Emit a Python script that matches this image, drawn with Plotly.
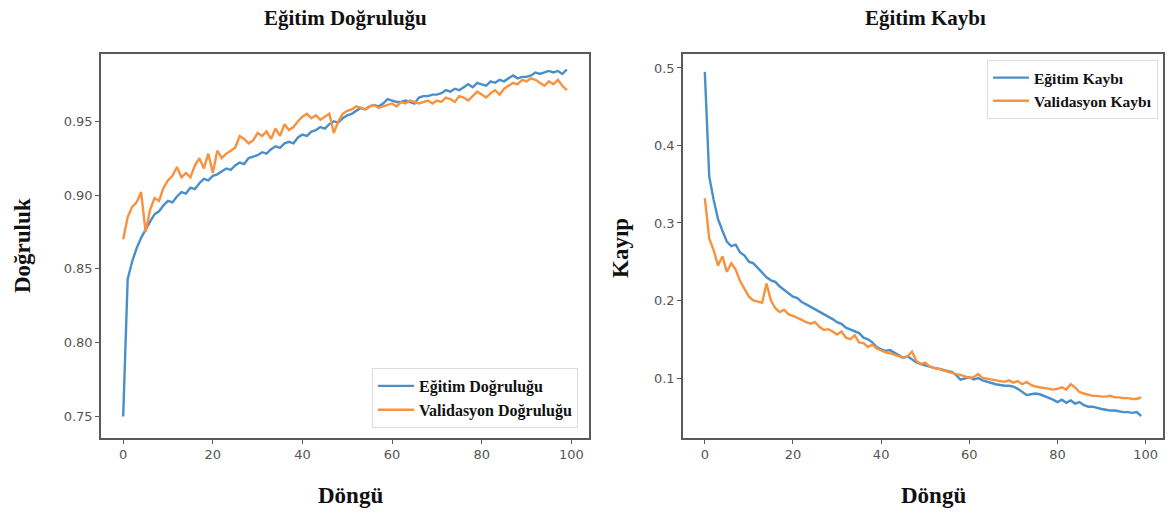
import plotly.graph_objects as go

epochs = list(range(100))

train_acc = [0.750, 0.843, 0.855, 0.864, 0.871, 0.877, 0.882, 0.887, 0.889, 0.893,
             0.896, 0.895, 0.899, 0.902, 0.901, 0.905, 0.904, 0.908, 0.911, 0.910,
             0.913, 0.914, 0.916, 0.918, 0.917, 0.920, 0.922, 0.921, 0.925, 0.926,
             0.927, 0.929, 0.928, 0.931, 0.933, 0.932, 0.935, 0.936, 0.935, 0.939,
             0.941, 0.940, 0.943, 0.944, 0.946, 0.945, 0.948, 0.950, 0.949, 0.952,
             0.954, 0.955, 0.957, 0.959, 0.958, 0.960, 0.961, 0.960, 0.962, 0.965,
             0.964, 0.963, 0.963, 0.964, 0.963, 0.962, 0.966, 0.967, 0.967, 0.968,
             0.968, 0.969, 0.971, 0.970, 0.972, 0.971, 0.973, 0.975, 0.973, 0.976,
             0.975, 0.974, 0.977, 0.976, 0.978, 0.977, 0.979, 0.981, 0.979, 0.980,
             0.980, 0.981, 0.983, 0.982, 0.983, 0.984, 0.983, 0.984, 0.982, 0.985]

val_acc = [0.870, 0.885, 0.892, 0.895, 0.902, 0.875, 0.890, 0.898, 0.896, 0.905,
           0.910, 0.913, 0.919, 0.912, 0.915, 0.912, 0.920, 0.925, 0.918, 0.928,
           0.915, 0.930, 0.925, 0.928, 0.930, 0.932, 0.940, 0.938, 0.935, 0.937,
           0.942, 0.940, 0.943, 0.938, 0.945, 0.940, 0.948, 0.944, 0.946, 0.950,
           0.953, 0.955, 0.952, 0.954, 0.951, 0.953, 0.955, 0.942, 0.950, 0.955,
           0.957, 0.958, 0.960, 0.959, 0.958, 0.960, 0.961, 0.959, 0.960, 0.961,
           0.962, 0.960, 0.963, 0.962, 0.964, 0.963, 0.962, 0.963, 0.964, 0.962,
           0.964, 0.963, 0.966, 0.965, 0.963, 0.967, 0.966, 0.964, 0.967, 0.970,
           0.968, 0.966, 0.969, 0.971, 0.968, 0.972, 0.974, 0.976, 0.975, 0.978,
           0.977, 0.979, 0.978, 0.976, 0.974, 0.977, 0.975, 0.978, 0.974, 0.971]

train_loss = [0.495, 0.360, 0.330, 0.305, 0.290, 0.276, 0.270, 0.272, 0.262, 0.258,
              0.250, 0.248, 0.242, 0.236, 0.230, 0.226, 0.224, 0.218, 0.214, 0.210,
              0.205, 0.203, 0.198, 0.195, 0.192, 0.188, 0.186, 0.182, 0.179, 0.176,
              0.172, 0.170, 0.165, 0.163, 0.160, 0.158, 0.152, 0.150, 0.146, 0.140,
              0.137, 0.135, 0.136, 0.133, 0.130, 0.126, 0.128, 0.124, 0.120, 0.118,
              0.116, 0.115, 0.113, 0.112, 0.110, 0.109, 0.108, 0.104, 0.098, 0.100,
              0.101, 0.098, 0.100, 0.097, 0.095, 0.094, 0.092, 0.091, 0.090, 0.090,
              0.089, 0.086, 0.082, 0.078, 0.079, 0.080, 0.079, 0.077, 0.075, 0.072,
              0.069, 0.072, 0.068, 0.071, 0.067, 0.069, 0.065, 0.063, 0.063, 0.061,
              0.060, 0.059, 0.058, 0.058, 0.057, 0.056, 0.056, 0.055, 0.056, 0.051]

val_loss = [0.332, 0.280, 0.265, 0.245, 0.257, 0.237, 0.248, 0.240, 0.225, 0.215,
            0.205, 0.200, 0.198, 0.197, 0.222, 0.200, 0.190, 0.185, 0.188, 0.182,
            0.180, 0.178, 0.175, 0.172, 0.170, 0.172, 0.166, 0.162, 0.163, 0.160,
            0.156, 0.160, 0.152, 0.150, 0.155, 0.146, 0.145, 0.140, 0.143, 0.138,
            0.135, 0.133, 0.132, 0.130, 0.128, 0.126, 0.128, 0.134, 0.122, 0.118,
            0.120, 0.115, 0.113, 0.112, 0.110, 0.108, 0.106, 0.105, 0.104, 0.102,
            0.100, 0.101, 0.105, 0.100, 0.099, 0.098, 0.097, 0.096, 0.095, 0.097,
            0.094, 0.096, 0.092, 0.095, 0.091, 0.089, 0.088, 0.087, 0.086, 0.085,
            0.086, 0.088, 0.085, 0.092, 0.088, 0.082, 0.080, 0.078, 0.077, 0.077,
            0.076, 0.076, 0.077, 0.075, 0.075, 0.074, 0.074, 0.073, 0.073, 0.075]

x_ticks = [0, 20, 40, 60, 80, 100]
acc_ticks = [0.75, 0.80, 0.85, 0.90, 0.95]
loss_ticks = [0.1, 0.2, 0.3, 0.4, 0.5]

BLUE = "#4a8fca"
ORANGE = "#f7923e"
SERIF = "Liberation Serif"
W, H = 1171, 513

fig = go.Figure()
fig.add_trace(go.Scatter(x=epochs, y=train_acc, mode="lines", name="<b>Eğitim Doğruluğu</b>",
                         line=dict(color=BLUE, width=2.4), xaxis="x", yaxis="y", legend="legend"))
fig.add_trace(go.Scatter(x=epochs, y=val_acc, mode="lines", name="<b>Validasyon Doğruluğu</b>",
                         line=dict(color=ORANGE, width=2.4), xaxis="x", yaxis="y", legend="legend"))
fig.add_trace(go.Scatter(x=epochs, y=train_loss, mode="lines", name="<b>Eğitim Kaybı</b>",
                         line=dict(color=BLUE, width=2.4), xaxis="x2", yaxis="y2", legend="legend2"))
fig.add_trace(go.Scatter(x=epochs, y=val_loss, mode="lines", name="<b>Validasyon Kaybı</b>",
                         line=dict(color=ORANGE, width=2.4), xaxis="x2", yaxis="y2", legend="legend2"))

axis_common = dict(showgrid=False, zeroline=False, showline=True, mirror=True, automargin=False,
                   linecolor="#5a5a5a", linewidth=1.5, ticks="outside", ticklen=4,
                   tickcolor="#5a5a5a", tickfont=dict(family="DejaVu Sans", size=13, color="#555555"))

ydom = [1 - 438 / H, 1 - 54 / H]
fig.update_layout(
    template="none",
    width=W, height=H,
    margin=dict(l=0, r=0, t=0, b=0, autoexpand=False),
    paper_bgcolor="white", plot_bgcolor="white",
    xaxis=dict(domain=[101 / W, 589 / W], range=[-4.95, 103.95], tickvals=x_ticks,
               anchor="y", **axis_common),
    yaxis=dict(domain=ydom, range=[0.7355, 0.9955], tickvals=acc_ticks,
               ticktext=[f"{v:.2f}" for v in acc_ticks], anchor="x", **axis_common),
    xaxis2=dict(domain=[683 / W, 1163 / W], range=[-4.95, 103.95], tickvals=x_ticks,
                anchor="y2", **axis_common),
    yaxis2=dict(domain=ydom, range=[0.0226, 0.518], tickvals=loss_ticks,
                ticktext=[f"{v:.1f}" for v in loss_ticks], anchor="x2", **axis_common),
    legend=dict(x=578 / W, y=1 - 428 / H, xanchor="right", yanchor="bottom",
                bgcolor="rgba(255,255,255,0.9)", bordercolor="#dddddd", borderwidth=1,
                font=dict(family=SERIF, size=16, color="#111111"), itemwidth=36),
    legend2=dict(x=1158 / W, y=1 - 60 / H, xanchor="right", yanchor="top",
                 bgcolor="rgba(255,255,255,0.9)", bordercolor="#dddddd", borderwidth=1,
                 font=dict(family=SERIF, size=15.5, color="#111111"), itemwidth=36),
    showlegend=True,
)

def txt(text, x, y, size, angle=0):
    fig.add_annotation(text=f"<b>{text}</b>", x=x / W, y=1 - y / H, xref="paper", yref="paper",
                       showarrow=False, textangle=angle, xanchor="center", yanchor="middle",
                       font=dict(family=SERIF, size=size, color="#111111"))

txt("Eğitim Doğruluğu", 345, 18, 21)
txt("Eğitim Kaybı", 925, 18, 21)
txt("Döngü", 350, 495, 23)
txt("Döngü", 933, 495, 23)
txt("Doğruluk", 22, 245, 23, -90)
txt("Kayıp", 620, 248, 23, -90)

fig.write_html("out.html", config={"displayModeBar": False},
               post_script="document.body.style.margin='0';document.body.style.overflow='hidden';")
